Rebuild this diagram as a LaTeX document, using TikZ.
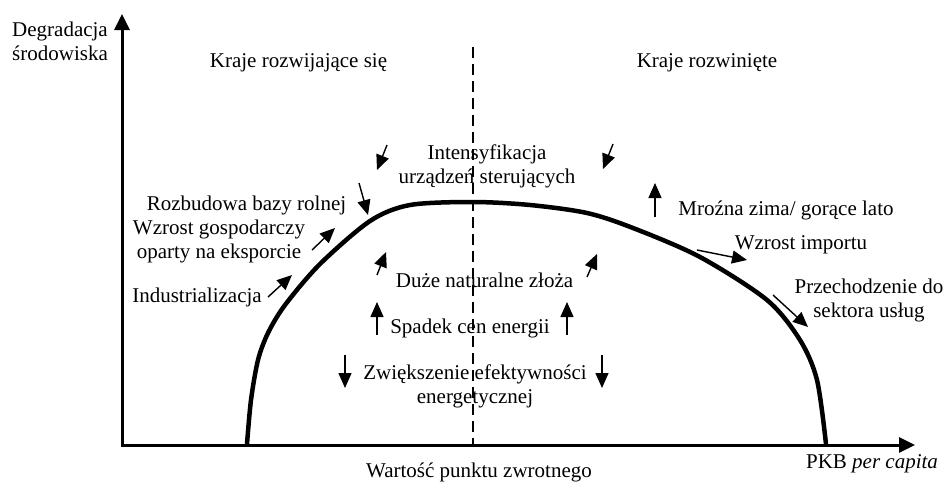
\documentclass[tikz,border=0pt]{standalone}
\usepackage{fontspec}
\setmainfont{Liberation Serif}
\usetikzlibrary{arrows.meta}
\begin{document}
\begin{tikzpicture}[x=1pt,y=-1pt,
  lbl/.style={inner sep=0pt, anchor=base, font=\fontsize{21}{23.5}\selectfont, align=center},
  axis/.style={line width=3pt, -{Triangle[length=16pt,width=15pt]}},
  ind/.style={line width=1.4pt, -{Triangle[length=15pt,width=13pt]}},
  curvestyle/.style={line width=4.5pt, line join=round},
  turn/.style={line width=2.8pt, dash pattern=on 11pt off 6pt}]
\useasboundingbox (0,0) rectangle (947,482);
% labels (multi-line nodes: base = last line)
\node[lbl, anchor=base west, align=left] (yl) at (12,60) {Degradacja\\środowiska};
\node[lbl] (dev) at (298.5,67) {Kraje rozwijające się};
\node[lbl] (dvd) at (707,67) {Kraje rozwinięte};
\node[lbl] (int) at (487,183) {Intensyfikacja\\urządzeń sterujących};
\node[lbl] (roz) at (246.5,210) {Rozbudowa bazy rolnej};
\node[lbl] (wzg) at (219,258) {Wzrost gospodarczy\\oparty na eksporcie};
\node[lbl] (ind) at (197,302) {Industrializacja};
\node[lbl] (duz) at (484.5,287) {Duże naturalne złoża};
\node[lbl] (spd) at (470,333) {Spadek cen energii};
\node[lbl] (zwi) at (475,403) {Zwiększenie efektywności\\energetycznej};
\node[lbl] (wpz) at (479,477) {Wartość punktu zwrotnego};
\node[lbl] (pkb) at (872,468) {PKB \textit{per capita}};
\node[lbl] (mro) at (786,215) {Mroźna zima/ gorące lato};
\node[lbl] (wim) at (801,249) {Wzrost importu};
\node[lbl] (prz) at (869,317) {Przechodzenie do\\sektora usług};
% axes
\draw[axis] (122,445) -- (122,14);
\draw[axis] (120.5,445) -- (915,445);
% turning point
\draw[turn] (473,47) -- (473,445);
% curve
\draw[curvestyle] plot[smooth, tension=0.5] coordinates {(247,444) (251,400) (258,360) (268,333) (285,305) (320,264) (370,221) (410,205) (473,202) (530,205) (587,213) (633,228) (700,257) (767,300) (800,340) (817,380) (826,444)};
% indicator arrows
\draw[ind] (268,297) -- (292,275);
\draw[ind] (312,250) -- (335,228);
\draw[ind] (359,183) -- (368,215);
\draw[ind] (387,145) -- (377,170);
\draw[ind] (613,144) -- (603,169);
\draw[ind] (377,275) -- (386,252);
\draw[ind] (587,277) -- (597,254);
\draw[ind] (377,335) -- (377,302);
\draw[ind] (567,335) -- (567,302);
\draw[ind] (345,355) -- (345,388);
\draw[ind] (602,355) -- (602,388);
\draw[ind] (655,217) -- (655,183);
\draw[ind] (697,250) -- (747,260);
\draw[ind] (773,295) -- (808,327);
\end{tikzpicture}
\end{document}
